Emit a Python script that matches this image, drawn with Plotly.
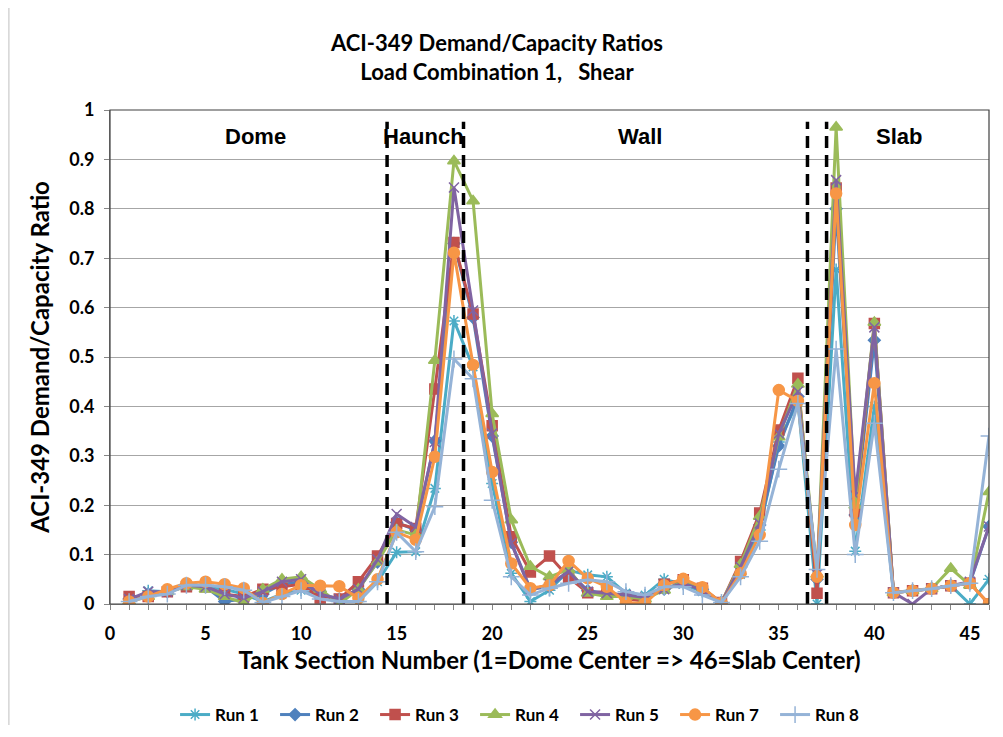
import plotly.graph_objects as go

sections = list(range(1, 47))

run1 = [0.005, 0.027, 0.025, 0.038, 0.035, 0.03, 0.02, 0.005, 0.02, 0.028, 0.02, 0.005, 0.005, 0.045,
        0.105, 0.106, 0.234, 0.573, 0.48, 0.244, 0.062, 0.005, 0.028, 0.068, 0.059, 0.055, 0.022, 0.018,
        0.05, 0.04, 0.025, 0.003, 0.06, 0.15, 0.328, 0.41, 0.0, 0.677, 0.107, 0.4, 0.023, 0.028, 0.031,
        0.037, 0.0, 0.05]
run2 = [0.01, 0.02, 0.025, 0.04, 0.035, 0.005, 0.01, 0.02, 0.04, 0.045, 0.02, 0.01, 0.03, 0.085,
        0.165, 0.15, 0.33, 0.73, 0.58, 0.34, 0.125, 0.03, 0.035, 0.065, 0.027, 0.022, 0.018, 0.012,
        0.03, 0.045, 0.03, 0.003, 0.075, 0.16, 0.32, 0.42, 0.05, 0.8, 0.18, 0.534, 0.023, 0.027, 0.031,
        0.037, 0.042, 0.157]
run3 = [0.015, 0.015, 0.025, 0.035, 0.035, 0.02, 0.015, 0.03, 0.035, 0.04, 0.012, 0.01, 0.045, 0.097,
        0.163, 0.153, 0.435, 0.732, 0.587, 0.361, 0.136, 0.065, 0.097, 0.054, 0.023, 0.025, 0.011, 0.005,
        0.04, 0.049, 0.032, 0.003, 0.086, 0.184, 0.352, 0.457, 0.022, 0.842, 0.187, 0.568, 0.023, 0.027,
        0.031, 0.037, 0.042, 0.0]
run4 = [0.005, 0.015, 0.025, 0.035, 0.03, 0.015, 0.002, 0.03, 0.05, 0.055, 0.03, 0.0, 0.03, 0.085,
        0.15, 0.14, 0.493, 0.897, 0.816, 0.385, 0.17, 0.076, 0.055, 0.07, 0.022, 0.015, 0.015, 0.01,
        0.028, 0.045, 0.03, 0.003, 0.08, 0.177, 0.338, 0.445, 0.06, 0.965, 0.2, 0.57, 0.023, 0.027,
        0.031, 0.072, 0.038, 0.227]
run5 = [0.01, 0.025, 0.025, 0.038, 0.035, 0.02, 0.012, 0.025, 0.045, 0.05, 0.02, 0.01, 0.03, 0.09,
        0.182, 0.156, 0.328, 0.843, 0.594, 0.345, 0.123, 0.028, 0.04, 0.066, 0.025, 0.022, 0.018, 0.013,
        0.03, 0.042, 0.028, 0.003, 0.075, 0.163, 0.345, 0.43, 0.06, 0.858, 0.22, 0.56, 0.023, 0.0,
        0.031, 0.037, 0.045, 0.157]
run7 = [0.005, 0.015, 0.03, 0.042, 0.045, 0.04, 0.032, 0.002, 0.02, 0.038, 0.037, 0.036, 0.012, 0.05,
        0.145, 0.13, 0.298, 0.711, 0.484, 0.267, 0.082, 0.032, 0.038, 0.087, 0.052, 0.035, 0.003, 0.001,
        0.038, 0.051, 0.034, 0.002, 0.062, 0.14, 0.433, 0.411, 0.055, 0.831, 0.16, 0.447, 0.023, 0.027,
        0.031, 0.037, 0.042, 0.0]
run8 = [0.005, 0.015, 0.02, 0.038, 0.038, 0.035, 0.028, 0.003, 0.015, 0.027, 0.01, 0.005, 0.005, 0.045,
        0.145, 0.106, 0.197, 0.496, 0.456, 0.21, 0.055, 0.018, 0.032, 0.042, 0.049, 0.045, 0.025, 0.018,
        0.035, 0.035, 0.018, 0.003, 0.055, 0.127, 0.273, 0.406, 0.07, 0.516, 0.1, 0.366, 0.023, 0.027,
        0.031, 0.037, 0.042, 0.34]

series_names = ["Run 1", "Run 2", "Run 3", "Run 4", "Run 5", "Run 7", "Run 8"]
series_values = [run1, run2, run3, run4, run5, run7, run8]
colors = ["#4BACC6", "#4F81BD", "#C0504D", "#9BBB59", "#8064A2", "#F79646", "#95B3D7"]
symbols = ["asterisk-open", "diamond", "square", "triangle-up", "x-thin-open", "circle", "cross-thin-open"]
sizes = [10, 9, 10, 11, 10, 11, 12]

region_labels = ["Dome", "Haunch", "Wall", "Slab"]
region_x = [7.6, 16.4, 27.75, 41.3]
boundaries = [14.5, 18.5, 36.5, 37.5]

fig = go.Figure()
for name, vals, c, s, sz in zip(series_names, series_values, colors, symbols, sizes):
    fig.add_trace(go.Scatter(
        x=sections, y=vals, name=name, mode="lines+markers",
        line=dict(color=c, width=3),
        marker=dict(symbol=s, size=sz, color=c, line=dict(color=c, width=1.5)),
    ))

shapes = []
for b in boundaries:
    shapes.append(dict(type="line", xref="x", yref="y", x0=b, x1=b, y0=0, y1=0.976,
                       line=dict(color="black", width=3.5, dash="12px,7px")))
# plot area border
shapes.append(dict(type="rect", xref="paper", yref="paper", x0=0, x1=1, y0=0, y1=1,
                   line=dict(color="#404040", width=1.2), layer="above"))
# outer chart border (left edge)
shapes.append(dict(type="line", xref="paper", yref="paper", x0=-0.115, x1=-0.115, y0=-0.25, y1=1.23,
                   line=dict(color="#BFBFBF", width=1)))

annotations = []
for lab, rx in zip(region_labels, region_x):
    annotations.append(dict(x=rx, y=0.947, xref="x", yref="y", text=lab, showarrow=False,
                            font=dict(family="Liberation Sans", size=22, color="black", weight="bold")))

fig.update_layout(
    width=987, height=717,
    margin=dict(l=102, r=6, t=102, b=121, autoexpand=False),
    paper_bgcolor="white", plot_bgcolor="white",
    title=dict(text="ACI-349 Demand/Capacity Ratios<br>Load Combination 1,   Shear",
               x=0.4954, xref="container", xanchor="center", y=1 - 43 / 717, yref="container", yanchor="top",
               font=dict(family="Lato", size=22, color="black", weight="bold")),
    xaxis=dict(range=[0, 46], dtick=5, tick0=0, showgrid=False, zeroline=False,
               showline=True, linecolor="#868686", linewidth=1,
               ticks="outside", ticklen=5, tickcolor="#868686", ticklabelstandoff=8,
               minor=dict(dtick=1, ticks="outside", ticklen=5, tickcolor="#868686", showgrid=False),
               tickfont=dict(family="Lato", size=18, color="black", weight="bold"),
               title=dict(text="Tank Section Number (1=Dome Center => 46=Slab Center)",
                          font=dict(family="Lato", size=24, color="black", weight="bold"), standoff=9)),
    yaxis=dict(range=[0, 1], dtick=0.1, showgrid=True, gridcolor="#A6A6A6", gridwidth=1,
               zeroline=False, showline=True, linecolor="#868686", linewidth=1,
               ticks="outside", ticklen=5, tickcolor="#868686", ticklabelstandoff=6,
               tickfont=dict(family="Lato", size=18, color="black", weight="bold"),
               title=dict(text="ACI-349 Demand/Capacity Ratio",
                          font=dict(family="Lato", size=24, color="black", weight="bold"), standoff=12)),
    legend=dict(orientation="h", x=0.4722, xanchor="center", y=-0.2247, yanchor="middle",
                font=dict(family="Lato", size=17, color="black", weight="bold"),
                itemwidth=30, entrywidth=55, entrywidthmode="pixels", tracegroupgap=0),
    shapes=shapes, annotations=annotations,
    showlegend=True,
)

fig.write_html("out.html")
